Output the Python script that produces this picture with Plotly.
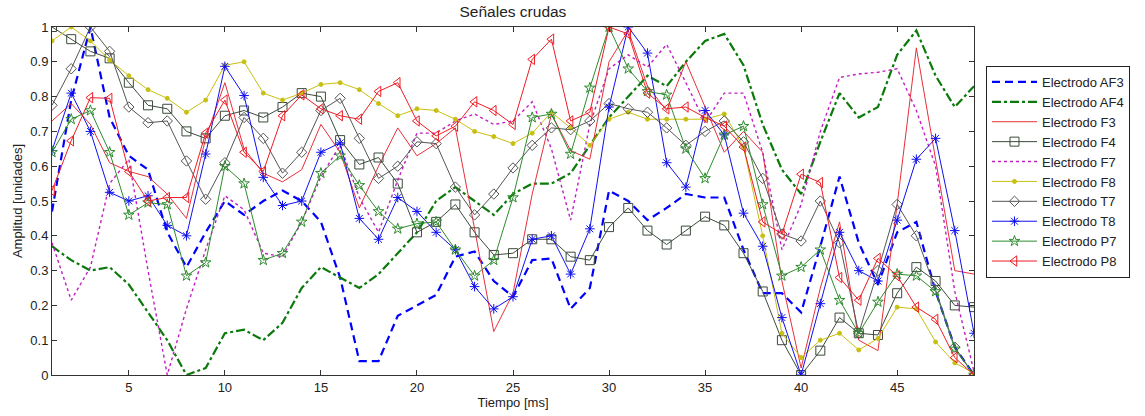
import plotly.graph_objects as go

t = list(range(1, 50))

af3 = [0.47, 0.79, 1.00, 0.74, 0.63, 0.59, 0.41, 0.31, 0.41, 0.50, 0.46, 0.50, 0.53, 0.50,
       0.44, 0.28, 0.04, 0.04, 0.17, 0.20, 0.23, 0.34, 0.355, 0.27, 0.225, 0.33, 0.335, 0.19,
       0.25, 0.53, 0.50, 0.445, 0.48, 0.52, 0.51, 0.51, 0.36, 0.235, 0.235, 0.18, 0.37, 0.57,
       0.38, 0.26, 0.41, 0.44, 0.24, 0.08, 0.0]
af4 = [0.37, 0.33, 0.30, 0.31, 0.26, 0.18, 0.10, 0.0, 0.02, 0.12, 0.13, 0.10, 0.15, 0.25,
       0.31, 0.28, 0.25, 0.29, 0.35, 0.41, 0.50, 0.54, 0.50, 0.46, 0.52, 0.55, 0.55, 0.58,
       0.66, 0.74, 0.80, 0.86, 0.83, 0.90, 0.96, 0.98, 0.89, 0.72, 0.59, 0.52, 0.67, 0.81,
       0.74, 0.77, 0.92, 0.99, 0.86, 0.77, 0.83]
f3 = [0.73, 0.78, 0.72, 0.61, 0.585, 0.57, 0.52, 0.45, 0.68, 0.84, 0.65, 0.58, 0.555, 0.59,
      0.72, 0.64, 0.48, 0.60, 0.71, 0.63, 0.665, 0.71, 0.42, 0.125, 0.235, 0.52, 0.75, 0.645,
      0.62, 0.90, 0.99, 0.83, 0.76, 0.90, 0.77, 0.64, 0.70, 0.64, 0.27, 0.02, 0.25, 0.44,
      0.10, 0.07, 0.49, 0.94, 0.62, 0.30, 0.29]
f4 = [1.0, 0.965, 0.93, 0.91, 0.84, 0.775, 0.765, 0.70, 0.68, 0.745, 0.76, 0.74, 0.77, 0.81,
      0.80, 0.675, 0.605, 0.625, 0.55, 0.41, 0.44, 0.49, 0.41, 0.345, 0.35, 0.39, 0.39, 0.34,
      0.33, 0.425, 0.48, 0.415, 0.375, 0.415, 0.455, 0.43, 0.35, 0.24, 0.10, 0.0, 0.07, 0.165,
      0.12, 0.115, 0.235, 0.31, 0.27, 0.20, 0.195]
f7 = [0.38, 0.215, 0.31, 0.55, 0.62, 0.30, 0.0, 0.19, 0.36, 0.515, 0.475, 0.35, 0.34, 0.44,
      0.57, 0.66, 0.51, 0.41, 0.56, 0.695, 0.695, 0.73, 0.75, 0.72, 0.73, 0.785, 0.65, 0.445,
      0.72, 0.88, 0.92, 0.885, 0.95, 0.84, 0.725, 0.81, 0.81, 0.64, 0.36, 0.49, 0.70, 0.855,
      0.865, 0.87, 0.88, 0.76, 0.60, 0.24, 0.01]
f8 = [0.96, 1.0, 0.96, 0.905, 0.86, 0.82, 0.795, 0.755, 0.79, 0.89, 0.90, 0.81, 0.79, 0.81,
      0.835, 0.84, 0.82, 0.78, 0.745, 0.765, 0.76, 0.735, 0.70, 0.685, 0.665, 0.695, 0.755, 0.71,
      0.66, 0.735, 0.755, 0.735, 0.735, 0.735, 0.735, 0.75, 0.655, 0.40, 0.12, 0.05, 0.10, 0.12,
      0.072, 0.105, 0.195, 0.19, 0.095, 0.035, 0.005]
t7 = [0.775, 0.88, 1.0, 0.93, 0.77, 0.725, 0.73, 0.615, 0.505, 0.61, 0.74, 0.68, 0.58, 0.64,
      0.76, 0.795, 0.68, 0.565, 0.60, 0.67, 0.665, 0.54, 0.46, 0.52, 0.595, 0.66, 0.71, 0.705,
      0.73, 0.78, 0.765, 0.755, 0.71, 0.66, 0.70, 0.73, 0.67, 0.565, 0.405, 0.385, 0.50, 0.38,
      0.12, 0.30, 0.49, 0.40, 0.245, 0.08, 0.0]
t8 = [0.645, 0.81, 0.70, 0.525, 0.50, 0.515, 0.43, 0.40, 0.635, 0.887, 0.803, 0.568, 0.487, 0.50,
      0.64, 0.667, 0.45, 0.39, 0.51, 0.47, 0.41, 0.36, 0.254, 0.19, 0.225, 0.39, 0.40, 0.29,
      0.42, 0.77, 1.0, 0.925, 0.61, 0.54, 0.76, 0.69, 0.465, 0.37, 0.165, 0.0, 0.205, 0.41,
      0.30, 0.27, 0.445, 0.62, 0.68, 0.415, 0.12]
p7 = [0.64, 0.735, 0.76, 0.64, 0.46, 0.495, 0.49, 0.285, 0.323, 0.60, 0.55, 0.33, 0.35, 0.44,
      0.58, 0.63, 0.545, 0.47, 0.42, 0.435, 0.44, 0.36, 0.285, 0.33, 0.51, 0.74, 0.75, 0.635,
      0.825, 1.0, 0.88, 0.815, 0.805, 0.65, 0.565, 0.69, 0.715, 0.49, 0.285, 0.31, 0.36, 0.215,
      0.12, 0.21, 0.29, 0.285, 0.24, 0.075, 0.0]
p8 = [0.53, 0.673, 0.797, 0.795, 0.585, 0.50, 0.51, 0.51, 0.695, 0.79, 0.64, 0.585, 0.745, 0.805,
      0.765, 0.745, 0.735, 0.815, 0.84, 0.73, 0.687, 0.715, 0.785, 0.76, 0.72, 0.907, 0.965, 0.73,
      0.755, 1.0, 0.98, 0.81, 0.765, 0.77, 0.74, 0.715, 0.655, 0.44, 0.405, 0.577, 0.553, 0.28,
      0.215, 0.335, 0.285, 0.195, 0.16, 0.05, 0.0]

names = ["Electrodo AF3", "Electrodo AF4", "Electrodo F3", "Electrodo F4", "Electrodo F7",
         "Electrodo F8", "Electrodo T7", "Electrodo T8", "Electrodo P7", "Electrodo P8"]

styles = [
    (af3, dict(color="#0000ff", width=2.2, dash="8px,5px"), None),
    (af4, dict(color="#0b7a0b", width=2.2, dash="dashdot"), None),
    (f3, dict(color="#e8303a", width=1), None),
    (f4, dict(color="#3c4a3c", width=1), dict(symbol="square-open", size=9, color="#3c4a3c")),
    (f7, dict(color="#c020c0", width=1.4, dash="dot"), None),
    (f8, dict(color="#c8c010", width=1), dict(symbol="circle", size=4, color="#c8c010")),
    (t7, dict(color="#555555", width=1), dict(symbol="diamond-open", size=8, color="#555555")),
    (t8, dict(color="#1010ee", width=1), dict(symbol="asterisk-open", size=8, color="#1010ee")),
    (p7, dict(color="#2e8b2e", width=1), dict(symbol="star-open", size=8, color="#2e8b2e")),
    (p8, dict(color="#ee1c24", width=1), dict(symbol="triangle-left-open", size=9, color="#ee1c24")),
]

fig = go.Figure()
for name, (ys, line, marker) in zip(names, styles):
    kw = dict(x=t, y=ys, name=name, line=line)
    if marker:
        kw["mode"] = "lines+markers"
        kw["marker"] = dict(symbol=marker["symbol"], size=marker["size"], color=marker["color"],
                            line=dict(width=1, color=marker["color"]))
    else:
        kw["mode"] = "lines"
    fig.add_trace(go.Scatter(**kw))

axis_common = dict(showgrid=False, zeroline=False, showline=True, mirror="ticks",
                   linecolor="#333333", linewidth=1, ticks="inside", ticklen=5,
                   tickcolor="#333333", tickfont=dict(size=13, color="#222222"))

fig.update_layout(
    width=1145, height=416,
    margin=dict(l=52, r=171, t=27, b=41),
    paper_bgcolor="white", plot_bgcolor="white",
    font=dict(family="Liberation Sans, Arial, sans-serif", size=13, color="#222222"),
    title=dict(text="Señales crudas", x=0.448, xanchor="center", y=0.972, yanchor="middle",
               font=dict(size=15.5, color="#222222")),
    xaxis=dict(range=[1, 49], tickvals=[5, 10, 15, 20, 25, 30, 35, 40, 45],
               title=dict(text="Tiempo [ms]", standoff=0, font=dict(size=13)), **axis_common),
    yaxis=dict(range=[0, 1], tickvals=[0, 0.1, 0.2, 0.3, 0.4, 0.5, 0.6, 0.7, 0.8, 0.9, 1],
               ticktext=["0", "0.1", "0.2", "0.3", "0.4", "0.5", "0.6", "0.7", "0.8", "0.9", "1"],
               title=dict(text="Amplitud [unidades]", standoff=4, font=dict(size=13)), **axis_common),
    legend=dict(x=1.013, xanchor="left", y=0.888, yanchor="top", bordercolor="#222222",
                borderwidth=1, bgcolor="white", font=dict(size=13, color="#222222"),
                itemwidth=45, tracegroupgap=0),
    showlegend=True,
)

fig.write_html("out.html")
